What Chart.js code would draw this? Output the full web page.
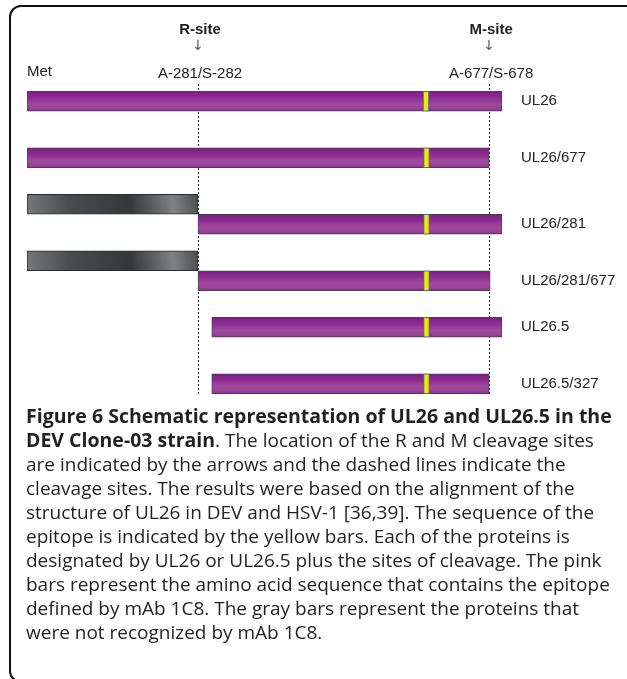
<!DOCTYPE html>
<html>

<head>
    <title>UL26 / UL26.5 schematic</title>
    <script src="https://cdn.jsdelivr.net/npm/chart.js"></script>
    <style>
        html, body {
            margin: 0;
            background: #fff;
            overflow: hidden;
        }

        #frame {
            position: absolute;
            left: 9px;
            top: 5px;
            width: 700px;
            height: 678px;
            box-sizing: border-box;
            border: 2px solid #111;
            border-radius: 12px;
        }

        #chartbox {
            position: absolute;
            left: 0;
            top: 0;
            width: 627px;
            height: 420px;
        }

        #caption {
            position: absolute;
            left: 26px;
            top: 404px;
            font-family: 'Open Sans', sans-serif;
            font-size: 19px;
            line-height: 24px;
            color: #231f20;
            white-space: nowrap;
        }

        #caption b {
            font-size: 19.5px;
        }
    </style>
</head>

<body>
    <div id="frame"></div>
    <div id="chartbox">
        <canvas id="schematic"></canvas>
    </div>
    <div id="caption">
        <b>Figure 6 Schematic representation of UL26 and UL26.5 in the<br>
        DEV Clone-03 strain</b>. The location of the R and M cleavage sites<br>
        are indicated by the arrows and the dashed lines indicate the<br>
        cleavage sites. The results were based on the alignment of the<br>
        structure of UL26 in DEV and HSV-1 [36,39]. The sequence of the<br>
        epitope is indicated by the yellow bars. Each of the proteins is<br>
        designated by UL26 or UL26.5 plus the sites of cleavage. The pink<br>
        bars represent the amino acid sequence that contains the epitope<br>
        defined by mAb 1C8. The gray bars represent the proteins that<br>
        were not recognized by mAb 1C8.
    </div>

    <script>
        // schematic position along the protein: 0 = Met, 100 = end of UL26
        const proteins = ['UL26', 'UL26/677', 'UL26/281', 'UL26/281/677', 'UL26.5', 'UL26.5/327'];
        const pinkBars = [[0, 100], [0, 97.3], [36, 100], [36, 97.5], [38.9, 100], [38.9, 97.3]];
        const grayBars = [null, null, [0, 36], [0, 36], null, null];
        const epitopeBars = [[83.4, 84.6], [83.5, 84.7], [83.5, 84.7], [83.5, 84.7], [83.5, 84.7], [83.5, 84.7]];

        const siteNames = ['R-site', 'M-site'];
        const siteCuts = ['A-281/S-282', 'A-677/S-678'];
        const sitePos = [36, 97.3];

        function barCenter(chart, i, lower) {
            return chart.scales.y.getPixelForValue(i) + (lower ? 10 : 0);
        }

        function pinkFill(context) {
            const chart = context.chart;
            if (!chart.chartArea || !chart.scales.y) return '#8c2f90';
            const cy = barCenter(chart, context.dataIndex, grayBars[context.dataIndex] !== null);
            const g = chart.ctx.createLinearGradient(0, cy - 10, 0, cy + 10);
            g.addColorStop(0, '#7a1d86');
            g.addColorStop(0.3, '#8a2b8f');
            g.addColorStop(0.65, '#9f4a9d');
            g.addColorStop(0.9, '#963f97');
            g.addColorStop(1, '#84278b');
            return g;
        }

        function grayFill(context) {
            const chart = context.chart;
            const v = grayBars[context.dataIndex];
            if (!chart.chartArea || !chart.scales.y || !v) return '#55585a';
            const cy = barCenter(chart, context.dataIndex, false) - 10;
            const x0 = chart.scales.x.getPixelForValue(v[0]);
            const x1 = chart.scales.x.getPixelForValue(v[1]);
            const g = chart.ctx.createLinearGradient(x0, cy + 10, x1, cy - 10);
            g.addColorStop(0, '#77797b');
            g.addColorStop(0.25, '#4a4d4f');
            g.addColorStop(0.6, '#35383a');
            g.addColorStop(0.85, '#7f8182');
            g.addColorStop(1, '#4a4d4f');
            return g;
        }

        const annotate = {
            id: 'annotate',
            beforeDatasetsDraw(chart) {
                const { ctx, chartArea } = chart;
                const x = chart.scales.x;
                ctx.save();
                ctx.strokeStyle = '#222';
                ctx.lineWidth = 1;
                ctx.setLineDash([2, 2]);
                for (let p of sitePos) {
                    const px = Math.round(x.getPixelForValue(p)) + 0.5;
                    ctx.beginPath();
                    ctx.moveTo(px, chartArea.top + 11);
                    ctx.lineTo(px, chartArea.bottom - 17);
                    ctx.stroke();
                }
                ctx.restore();
            },
            afterDatasetsDraw(chart) {
                const { ctx, chartArea } = chart;
                const x = chart.scales.x;
                ctx.save();
                ctx.fillStyle = '#222';
                ctx.textBaseline = 'middle';

                ctx.textAlign = 'center';
                for (let i = 0; i < sitePos.length; i++) {
                    const px = x.getPixelForValue(sitePos[i]);
                    ctx.font = 'bold 15px "Liberation Sans", Arial, sans-serif';
                    ctx.fillText(siteNames[i], px + 2, 30);
                    ctx.fillStyle = '#555';
                    ctx.font = '14px "DejaVu Sans", sans-serif';
                    ctx.fillText('\u2193', px, 46);
                    ctx.fillStyle = '#222';
                    ctx.font = '15px "Liberation Sans", Arial, sans-serif';
                    ctx.fillText(siteCuts[i], px + 2, 74);
                }

                ctx.textAlign = 'left';
                ctx.font = '15px "Liberation Sans", Arial, sans-serif';
                ctx.fillText('Met', 27, 72);

                const meta = chart.getDatasetMeta(2);
                meta.data.forEach((bar, i) => {
                    ctx.fillText(proteins[i], chartArea.right + 19, bar.y);
                });
                ctx.restore();
            }
        };

        new Chart(document.getElementById('schematic'), {
            type: 'bar',
            data: {
                labels: proteins,
                datasets: [
                    {
                        label: 'not recognized',
                        data: grayBars,
                        stack: 'gray',
                        backgroundColor: grayFill,
                        borderColor: '#2a2a2a'
                    },
                    {
                        label: 'epitope',
                        data: epitopeBars,
                        stack: 'pink',
                        backgroundColor: '#f4e600',
                        borderColor: '#3a6ea8'
                    },
                    {
                        label: 'contains epitope',
                        data: pinkBars,
                        stack: 'pink',
                        backgroundColor: pinkFill,
                        borderColor: '#4e3d4f'
                    }
                ]
            },
            options: {
                indexAxis: 'y',
                responsive: true,
                maintainAspectRatio: false,
                animation: false,
                layout: {
                    padding: { left: 27, right: 125, top: 73, bottom: 8 }
                },
                datasets: {
                    bar: {
                        barThickness: 20,
                        skipNull: true,
                        borderWidth: 1,
                        borderSkipped: false
                    }
                },
                scales: {
                    x: { type: 'linear', min: 0, max: 100, display: false, stacked: false },
                    y: { type: 'category', display: false }
                },
                plugins: {
                    legend: { display: false },
                    tooltip: { enabled: false }
                }
            },
            plugins: [annotate]
        });
    </script>
</body>

</html>
